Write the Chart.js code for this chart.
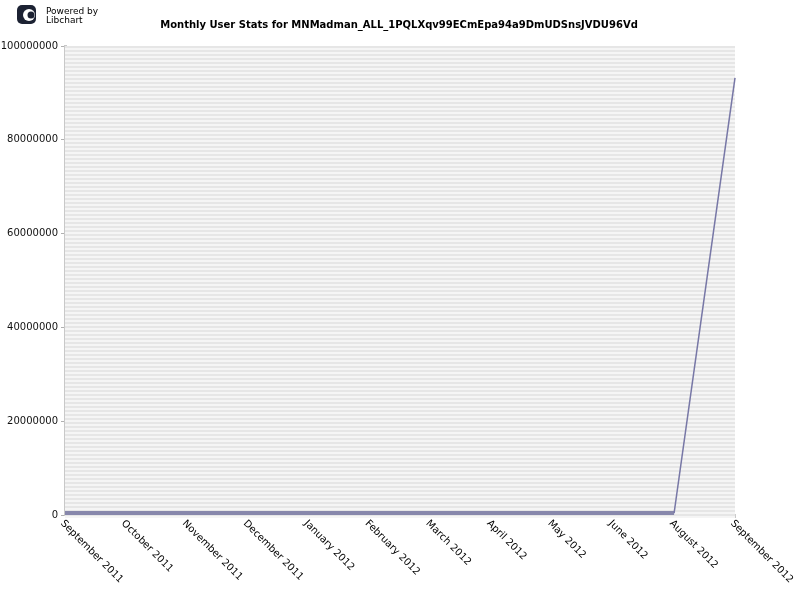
<!DOCTYPE html>
<html>
<head>
<meta charset="utf-8">
<script src="https://cdn.jsdelivr.net/npm/chart.js@4/dist/chart.umd.min.js"></script>
<style>
  html, body { margin: 0; padding: 0; background: #fff; }
  #wrap { width: 800px; height: 600px; }
</style>
</head>
<body>
<div id="wrap"><canvas id="c" width="800" height="600"></canvas></div>
<script>
// chart data
const chartTitle = 'Monthly User Stats for MNMadman_ALL_1PQLXqv99ECmEpa94a9DmUDSnsJVDU96Vd';
const months = ['September 2011', 'October 2011', 'November 2011', 'December 2011',
  'January 2012', 'February 2012', 'March 2012', 'April 2012', 'May 2012',
  'June 2012', 'August 2012', 'September 2012'];
const users = [400000, 400000, 400000, 400000, 400000, 400000, 400000, 400000,
  400000, 400000, 400000, 93200000];
const yTicks = [0, 20000000, 40000000, 60000000, 80000000, 100000000];

// striped background, title, logo and slanted month labels
const decor = {
  id: 'decor',
  beforeDatasetsDraw(chart) {
    const { ctx, chartArea: a } = chart;
    ctx.save();
    for (let y = a.top; y < a.bottom; y += 4) {
      ctx.fillStyle = '#e6e6e6';
      ctx.fillRect(a.left, y, a.right - a.left, 2);
      ctx.fillStyle = '#f5f5f5';
      ctx.fillRect(a.left, y + 2, a.right - a.left, 2);
    }
    ctx.restore();
  },
  afterDraw(chart) {
    const { ctx } = chart;
    const x = chart.scales.x;
    ctx.save();
    // title
    ctx.fillStyle = '#000';
    ctx.font = 'bold 10px "DejaVu Sans"';
    ctx.textAlign = 'center';
    ctx.textBaseline = 'middle';
    ctx.fillText(chartTitle, 399, 25);
    // logo
    ctx.fillStyle = '#1c2233';
    ctx.beginPath();
    ctx.roundRect(17, 5, 19, 19, 5);
    ctx.fill();
    ctx.fillStyle = '#fff';
    ctx.beginPath();
    ctx.arc(29, 15, 6, 0, Math.PI * 2);
    ctx.fill();
    ctx.fillStyle = '#1c2233';
    ctx.beginPath();
    ctx.arc(31, 15, 3.5, 0, Math.PI * 2);
    ctx.fill();
    ctx.font = '9px "DejaVu Sans"';
    ctx.textAlign = 'left';
    ctx.textBaseline = 'alphabetic';
    ctx.fillStyle = '#000';
    ctx.fillText('Powered by', 46, 14);
    ctx.fillText('Libchart', 46, 23);
    // month labels
    ctx.font = '10px "DejaVu Sans"';
    ctx.textBaseline = 'middle';
    months.forEach((m, i) => {
      const px = x.getPixelForValue(i);
      ctx.save();
      ctx.translate(px - 3, x.top + 7);
      ctx.rotate(Math.PI / 4);
      ctx.fillText(m, 0, 0);
      ctx.restore();
    });
    ctx.restore();
  }
};

new Chart(document.getElementById('c').getContext('2d'), {
  type: 'line',
  data: {
    labels: months,
    datasets: [{
      label: 'Users',
      data: users,
      borderColor: '#7e7eaa',
      borderWidth: 2,
      segment: {
        // flat run along the bottom looks heavier in the original
        borderWidth: c => (c.p1.parsed.y < 1000000 ? 4 : 1.5),
        borderColor: c => (c.p1.parsed.y < 1000000 ? '#8787ab' : '#7777a6')
      },
      pointRadius: 0,
      tension: 0,
      fill: false
    }]
  },
  plugins: [decor],
  options: {
    responsive: false,
    animation: false,
    layout: { padding: { top: 46, right: 65, left: 0, bottom: 0 } },
    plugins: { legend: { display: false }, tooltip: { enabled: false } },
    scales: {
      x: {
        offset: false,
        grid: { display: true, drawOnChartArea: false, tickLength: 3, color: '#c8c8c8' },
        border: { color: '#cccccc', width: 2 },
        ticks: { display: false },
        afterFit(s) { s.height = 85; }
      },
      y: {
        min: 0,
        max: 100000000,
        afterBuildTicks(s) { s.ticks = yTicks.map(v => ({ value: v })); },
        grid: { display: true, drawOnChartArea: false, tickLength: 4, color: '#b0b0b0' },
        border: { color: '#c8c8c8', width: 3 },
        ticks: {
          color: '#111',
          font: { family: 'DejaVu Sans', size: 10 },
          padding: 3,
          callback: v => String(v)
        },
        afterFit(s) { s.width = 65; }
      }
    }
  }
});
</script>
</body>
</html>
